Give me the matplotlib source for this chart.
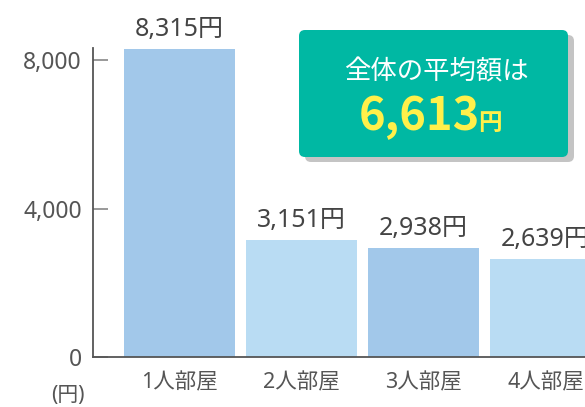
import matplotlib
matplotlib.use("Agg")
import matplotlib.pyplot as plt
from matplotlib.patches import FancyBboxPatch
from matplotlib.transforms import IdentityTransform

plt.rcParams['font.family'] = ['Noto Sans', 'Noto Sans CJK JP', 'DejaVu Sans']

categories = ["1人部屋", "2人部屋", "3人部屋", "4人部屋"]
values = [8315, 3151, 2938, 2639]
value_labels = ["8,315円", "3,151円", "2,938円", "2,639円"]
bar_colors = ["#a2c8ea", "#b9dcf3", "#a2c8ea", "#b9dcf3"]
yticks = [0, 4000, 8000]
ytick_labels = ["0", "4,000", "8,000"]
avg_title = "全体の平均額は"
avg_value = "6,613"
unit = "円"

W, H = 585, 407
fig = plt.figure(figsize=(W / 100, H / 100), dpi=100)
fig.patch.set_facecolor("white")

ax = fig.add_axes([93 / W, 50 / H, (W - 93) / W, 309 / H])
x = list(range(len(categories)))
ax.bar(x, values, width=0.91, color=bar_colors)
ax.set_xlim(-0.709, 3.324)
ax.set_ylim(0, 8330)

for s in ["top", "right"]:
    ax.spines[s].set_visible(False)
for s in ["left", "bottom"]:
    ax.spines[s].set_color("#555555")
    ax.spines[s].set_linewidth(1.3)

ax.set_yticks(yticks)
ax.set_yticklabels(ytick_labels)
ax.tick_params(axis="y", direction="in", length=11, width=1.2, color="#888888",
               pad=8, labelsize=16.5, labelcolor="#555555")
ax.set_xticks(x)
ax.set_xticklabels(categories)
ax.tick_params(axis="x", length=0, pad=11, labelsize=15.5, labelcolor="#555555")

for xi, v, lab in zip(x, values, value_labels):
    ax.annotate(lab, (xi, v), xytext=(0, 13), textcoords="offset pixels",
                ha="center", va="baseline", fontsize=18, color="#444444",
                annotation_clip=False)

fig.text(68 / W, 1 - 396 / H, "(円)", ha="center", va="center",
         fontsize=15, color="#555555")

# average box (pixel coordinates, origin bottom-left)
bx0, bx1 = 299, 568
by_top, by_bot = 30, 157
shadow = FancyBboxPatch((bx0 + 6, H - by_bot - 5), bx1 - bx0, by_bot - by_top,
                        boxstyle="round,pad=0,rounding_size=6",
                        transform=IdentityTransform(), facecolor="#c4c4c4",
                        edgecolor="none", zorder=5)
box = FancyBboxPatch((bx0, H - by_bot), bx1 - bx0, by_bot - by_top,
                     boxstyle="round,pad=0,rounding_size=6",
                     transform=IdentityTransform(), facecolor="#00b8a3",
                     edgecolor="none", zorder=6)
fig.patches.extend([shadow, box])

fig.text(436 / W, 1 - 73 / H, avg_title, ha="center", va="center",
         fontsize=19, color="white", zorder=7)
fig.text(480 / W, 1 - 130 / H, avg_value, ha="right", va="baseline",
         fontsize=32.5, fontweight="bold", color="#fff04a", zorder=7,
         family=['Noto Sans CJK JP', 'DejaVu Sans'])
fig.text(478 / W, 1 - 130 / H, unit, ha="left", va="baseline",
         fontsize=17, fontweight="bold", color="#fff04a", zorder=7,
         family=['Noto Sans CJK JP', 'DejaVu Sans'])

fig.savefig("out.png", dpi=100)
